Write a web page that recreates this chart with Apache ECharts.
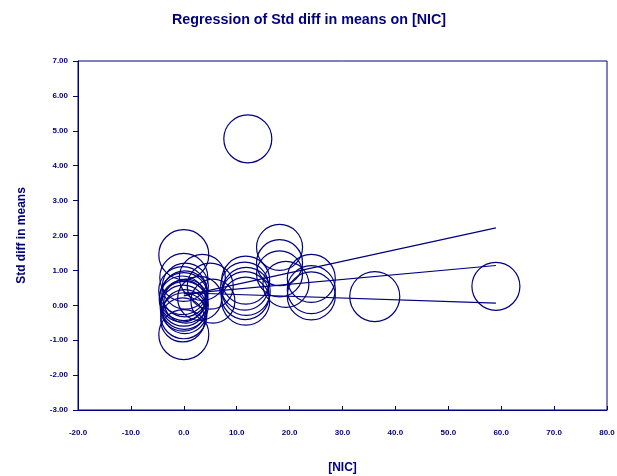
<!DOCTYPE html>
<html>
<head>
<meta charset="utf-8">
<script src="https://cdn.jsdelivr.net/npm/echarts@6/dist/echarts.min.js"></script>
<style>html,body{margin:0;padding:0;background:#fff}#c{width:617px;height:476px}</style>
</head>
<body>
<div id="c"></div>
<script>
// Study bubbles: covariate [NIC], Std diff in means, symbol diameter (weight)
const studyX = [0, 0, 0.3, -0.2, 0.2, 0, -0.3, 0.4, 0, 0.1, -0.1, 0.2, 0, -0.2, 0, 3.5, 5, 3, 5.5,
                11.7, 11.5, 11.8, 11.6, 11.7, 12.1, 18.1, 18.1, 18.1, 19.3, 24.1, 24.1, 24.1, 36.1, 59.0];
const studyY = [1.45, 0.80, 0.55, 0.42, 0.33, 0.25, 0.18, 0.12, 0.06, 0.0, -0.08, -0.18, -0.30, -0.42, -0.84, 0.80, 0.55, 0.20, 0.12,
                0.72, 0.55, 0.40, 0.28, 0.12, 4.77, 1.66, 1.22, 0.90, 0.60, 0.77, 0.45, 0.27, 0.25, 0.545];
const studySize = [50, 48, 46, 48, 46, 48, 46, 44, 46, 48, 46, 44, 46, 44, 50, 46, 46, 44, 44,
                   48, 48, 48, 48, 48, 48, 46, 46, 46, 46, 48, 48, 48, 50, 48];
// Regression line and confidence limits
const lineX = [0, 59];
const upperY = [0.27, 2.22];
const predY = [0.33, 1.14];
const lowerY = [0.36, 0.06];

const navy = '#000080';
const font = 'Liberation Sans, Arial, sans-serif';

const bubbles = studyX.map((x, i) => [x, studyY[i], studySize[i]]);
const mkLine = ys => lineX.map((x, i) => [x, ys[i]]);
const lineSeries = ys => ({
  type: 'line', data: mkLine(ys), symbol: 'none', silent: true,
  lineStyle: { color: navy, width: 1.2 }, z: 3
});

const chart = echarts.init(document.getElementById('c'), null, { renderer: 'canvas' });
chart.setOption({
  animation: false,
  backgroundColor: '#fff',
  title: {
    text: 'Regression of Std diff in means on [NIC]',
    left: 167, top: 8,
    textStyle: { color: navy, fontFamily: font, fontWeight: 'bold', fontSize: 14.3 }
  },
  grid: { left: 78, right: 10, top: 61, bottom: 66, outerBoundsMode: 'none', containLabel: false,
          show: true, borderColor: navy, borderWidth: 1, backgroundColor: 'transparent' },
  xAxis: {
    type: 'value', min: -20, max: 80, interval: 10,
    name: '[NIC]', nameLocation: 'middle', nameGap: 52,
    nameTextStyle: { color: navy, fontFamily: font, fontWeight: 'bold', fontSize: 12 },
    axisLine: { onZero: false, lineStyle: { color: navy, width: 1 } },
    axisTick: { inside: true, length: 4, lineStyle: { color: navy } },
    axisLabel: { color: navy, fontFamily: font, fontWeight: 'bold', fontSize: 8, margin: 19, formatter: v => v.toFixed(1) },
    splitLine: { show: false }
  },
  yAxis: {
    type: 'value', min: -3, max: 7, interval: 1,
    name: 'Std diff in means', nameLocation: 'middle', nameGap: 50, nameRotate: 90,
    nameTextStyle: { color: navy, fontFamily: font, fontWeight: 'bold', fontSize: 12 },
    axisLine: { onZero: false, lineStyle: { color: navy, width: 1 } },
    axisTick: { inside: false, length: 5, lineStyle: { color: navy } },
    axisLabel: { color: navy, fontFamily: font, fontWeight: 'bold', fontSize: 8, margin: 10, formatter: v => v.toFixed(2) },
    splitLine: { show: false }
  },
  series: [
    {
      type: 'scatter', data: bubbles, symbol: 'circle',
      symbolSize: v => v[2],
      itemStyle: { color: 'rgba(0,0,0,0)', borderColor: navy, borderWidth: 1.2, opacity: 1 },
      emphasis: { disabled: true },
      z: 2
    },
    lineSeries(upperY),
    lineSeries(predY),
    lineSeries(lowerY)
  ]
});
</script>
</body>
</html>
